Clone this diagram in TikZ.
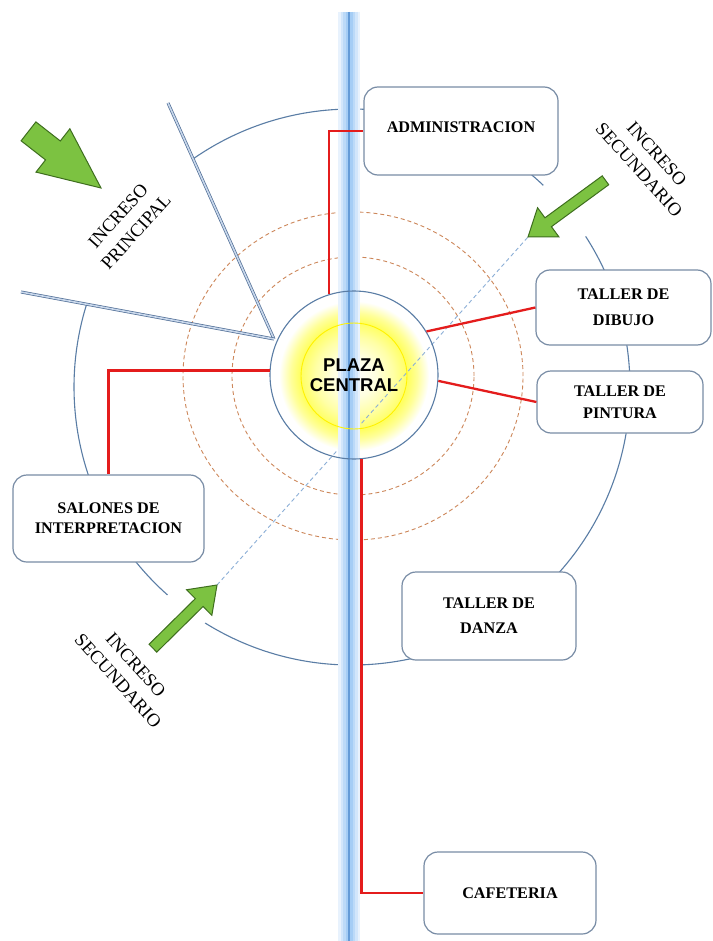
\documentclass[tikz,border=0pt]{standalone}
\usepackage{fontspec}
\setmainfont{Liberation Serif}
\newfontfamily\plazafont{Liberation Sans}
\usetikzlibrary{calc}

\definecolor{ringblue}{RGB}{90,125,165}
\definecolor{boxedge}{RGB}{120,140,165}
\definecolor{ringdash}{RGB}{205,135,90}
\definecolor{axisdash}{RGB}{140,175,215}
\definecolor{linkred}{RGB}{228,28,28}
\definecolor{arrowfill}{RGB}{124,194,65}
\definecolor{arrowedge}{RGB}{62,110,30}
\definecolor{wallblue}{RGB}{80,110,150}
\definecolor{wallfill}{RGB}{200,215,235}
\definecolor{streamA}{RGB}{232,242,253}
\definecolor{streamB}{RGB}{210,230,251}
\definecolor{streamC}{RGB}{188,218,248}
\definecolor{streamD}{RGB}{165,205,245}
\definecolor{streamE}{RGB}{100,155,215}

\pgfdeclareradialshading{plazaglow}{\pgfpoint{0bp}{0bp}}{%
  color(0bp)=(white); color(7bp)=(yellow!12); color(13bp)=(yellow!35);
  color(18bp)=(yellow!62); color(21bp)=(yellow!40); color(25bp)=(white);
  color(50bp)=(white)}

\tikzset{
  roombox/.style={draw=boxedge, line width=1.2pt, fill=white,
    rounded corners=14pt, align=center, inner sep=0pt},
  roomfont/.style={font=\bfseries\fontsize{16.2}{#1}\selectfont},
  ringline/.style={draw=ringblue, line width=1.1pt},
  dashring/.style={draw=ringdash, line width=0.9pt, dash pattern=on 4pt off 3pt},
  link/.style={draw=linkred, line width=2.3pt},
  wall/.style={draw=wallblue, line width=0.7pt, double=wallfill, double distance=1.6pt},
  greenarrow/.style={fill=arrowfill, draw=arrowedge, line width=1pt, line join=miter},
  ingress/.style={align=center, inner sep=0pt, font=\fontsize{18.5}{24}\selectfont}
}

\begin{document}
\begin{tikzpicture}[x=1pt,y=1pt]
\useasboundingbox (0,0) rectangle (712,-941);
\fill[white] (0,0) rectangle (712,-941);

% soft yellow light around the central plaza
\shade[shading=plazaglow] (354,-376) circle[radius=75];

% dashed rings of influence
\draw[dashring] (353,-376) ellipse[x radius=121, y radius=119];
\draw[dashring] (353,-376) ellipse[x radius=170, y radius=164];

% outer ring, broken at the three entrances
\coordinate (oc) at (352,-387);
\draw[ringline] (oc) ++(46.5:278) arc[start angle=46.5, end angle=124.9, radius=278];
\draw[ringline] (oc) ++(162.7:278) arc[start angle=162.7, end angle=228.4, radius=278];
\draw[ringline] (oc) ++(238.1:278) arc[start angle=238.1, end angle=392.8, radius=278];

% diagonal axis between the secondary entrances
\coordinate (sw) at (217,-585);
\coordinate (ne) at (528,-237);
\draw[axisdash, line width=0.9pt, dash pattern=on 4pt off 3pt] (sw) -- (ne);

% vertical water axis: pale glow with a thin darker core
\coordinate (ax1) at (349,-12);
\coordinate (ax2) at (349,-941);
\draw[streamA, line width=22pt] (ax1) -- (ax2);
\draw[streamB, line width=17pt] (ax1) -- (ax2);
\draw[streamC, line width=12pt] (ax1) -- (ax2);
\draw[streamD, line width=7pt] (ax1) -- (ax2);
\draw[streamE, line width=1.8pt] (ax1) -- (ax2);

% central plaza
\draw[yellow, line width=0.9pt] (354,-376) circle[radius=53];
\node[circle, ringline, minimum size=168pt, inner sep=0pt, align=center,
      font=\plazafont\bfseries\fontsize{18.5}{20}\selectfont] (plaza) at (354,-375) {PLAZA\\CENTRAL};

% walls of the main entrance
\coordinate (wj) at (274,-339);
\coordinate (w1) at (168,-103);
\coordinate (w2) at (21,-292);
\draw[wall] (w1) -- (wj);
\draw[wall] (w2) -- (wj);

% rooms
\node[roombox, roomfont=22, minimum width=194pt, minimum height=88pt, text depth=8pt] (admin) at (461,-131) {ADMINISTRACION};
\node[roombox, roomfont=26, minimum width=175pt, minimum height=75pt] (dibujo) at (623.5,-307.5) {TALLER DE\\DIBUJO};
\node[roombox, roomfont=22, minimum width=166pt, minimum height=62pt] (pintura) at (620,-402) {TALLER DE\\PINTURA};
\node[roombox, roomfont=20, minimum width=191pt, minimum height=87pt] (salones) at (108.5,-518.5) {SALONES DE\\INTERPRETACION};
\node[roombox, roomfont=25, minimum width=174pt, minimum height=88pt] (danza) at (489,-616) {TALLER DE\\DANZA};
\node[roombox, roomfont=22, minimum width=172pt, minimum height=82pt] (cafe) at (510,-893) {CAFETERIA};

% links from the plaza to each room
\draw[link] (plaza.107) |- (admin.west);
\draw[link] (plaza.31) -- (dibujo.west);
\draw[link] (plaza.-4) -- (pintura.west);
\draw[link] (plaza.177) -| (salones.north);
\draw[link] (plaza.-85) |- (cafe.west);

% entrance arrows
\begin{scope}[shift={(101,-188)}, rotate=-38]
  \draw[greenarrow] (0,0) -- (-61,27.5) -- (-61,12) -- (-92,12) -- (-92,-12) -- (-61,-12) -- (-61,-27.5) -- cycle;
\end{scope}
\begin{scope}[shift={(ne)}, rotate=216.2]
  \draw[greenarrow] (0,0) -- (-25,18) -- (-25,5.5) -- (-96,5.5) -- (-96,-5.5) -- (-25,-5.5) -- (-25,-18) -- cycle;
\end{scope}
\begin{scope}[shift={(sw)}, rotate=44.6]
  \draw[greenarrow] (0,0) -- (-25,18) -- (-25,5.5) -- (-90,5.5) -- (-90,-5.5) -- (-25,-5.5) -- (-25,-18) -- cycle;
\end{scope}

% entrance labels
\node[ingress, rotate=48] (lprin) at (127,-224) {INCRESO\\PRINCIPAL};
\node[ingress, rotate=-48] (lsecA) at (648,-162) {INCRESO\\SECUNDARIO};
\node[ingress, rotate=-48] (lsecB) at (127,-673) {INCRESO\\SECUNDARIO};
\end{tikzpicture}
\end{document}
